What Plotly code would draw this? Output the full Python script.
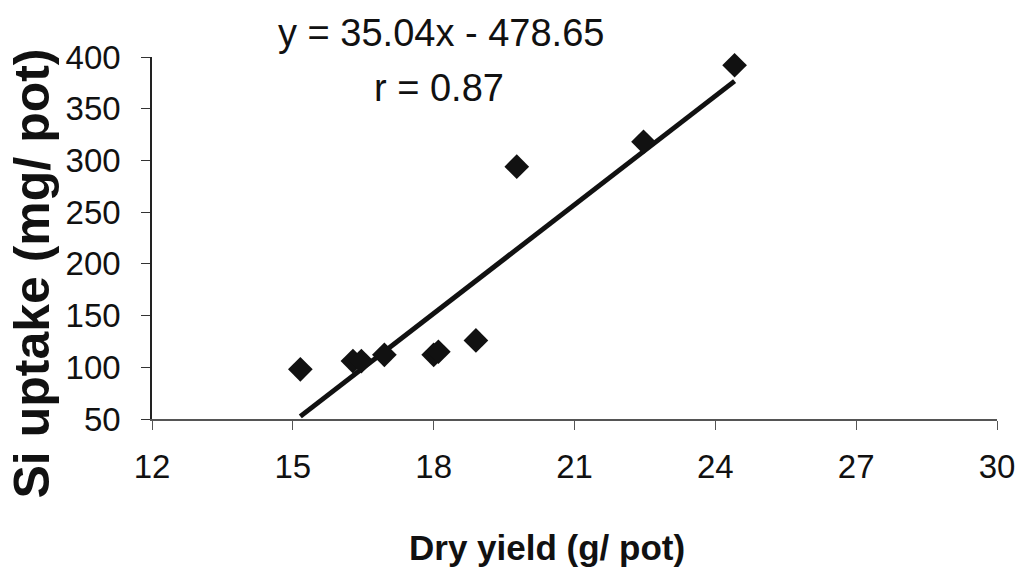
import plotly.graph_objects as go

# Dry matter yield (g/pot) and Si uptake (mg/pot) per pot
dry_yield = [15.16, 16.28, 16.46, 16.95, 18.00, 18.10, 18.90, 19.77, 22.47, 24.41]
si_uptake = [98, 106, 106, 112, 112, 115, 126, 294, 318, 392]

# Linear fit reported on the chart
slope = 35.04
intercept = -478.65
r_value = 0.87

x_ticks = [12, 15, 18, 21, 24, 27, 30]
y_ticks = [50, 100, 150, 200, 250, 300, 350, 400]

FONT = "Liberation Sans, Arial, sans-serif"
INK = "#111111"

fit_x = [min(dry_yield), max(dry_yield)]
fit_y = [slope * v + intercept for v in fit_x]

fig = go.Figure()

fig.add_trace(go.Scatter(
    x=fit_x, y=fit_y, mode="lines",
    line=dict(color=INK, width=5),
    hoverinfo="skip", showlegend=False, cliponaxis=False,
))

fig.add_trace(go.Scatter(
    x=dry_yield, y=si_uptake, mode="markers",
    marker=dict(symbol="diamond", size=19, color=INK, line=dict(width=0)),
    showlegend=False, cliponaxis=False,
))

fig.update_layout(
    width=1027, height=577,
    margin=dict(l=152, r=27, t=57, b=158),
    paper_bgcolor="white", plot_bgcolor="white",
    font=dict(family=FONT, color=INK),
    xaxis=dict(
        range=[12, 30], tickmode="array", tickvals=x_ticks,
        ticktext=[str(t) for t in x_ticks],
        showgrid=False, zeroline=False,
        showline=True, linecolor="#555555", linewidth=1.5,
        ticks="outside", ticklen=9, tickwidth=1.2, tickcolor="#555555",
        tickfont=dict(size=33, family=FONT, color=INK),
        ticklabelstandoff=9,
    ),
    yaxis=dict(
        range=[50, 400], tickmode="array", tickvals=y_ticks,
        ticktext=[str(t) for t in y_ticks],
        showgrid=False, zeroline=False,
        showline=True, linecolor="#222222", linewidth=1.6,
        ticks="outside", ticklen=9, tickwidth=1.2, tickcolor="#333333",
        tickfont=dict(size=33, family=FONT, color=INK),
        ticklabelstandoff=14,
    ),
    annotations=[
        dict(text=f"y = {slope:.2f}x - {abs(intercept):.2f}",
             xref="paper", yref="paper", x=0.342, y=1.066,
             xanchor="center", yanchor="middle", showarrow=False,
             font=dict(size=38, family=FONT, color=INK)),
        dict(text=f"r = {r_value:.2f}",
             xref="paper", yref="paper", x=0.340, y=0.914,
             xanchor="center", yanchor="middle", showarrow=False,
             font=dict(size=38, family=FONT, color=INK)),
        dict(text="<b>Dry yield (g/ pot)</b>",
             xref="paper", yref="paper", x=0.467, y=-0.356,
             xanchor="center", yanchor="middle", showarrow=False,
             font=dict(size=35, family=FONT, color=INK)),
        dict(text="<b>Si uptake (mg/ pot)</b>",
             xref="paper", yref="paper", x=-0.142, y=0.402,
             xanchor="center", yanchor="middle", showarrow=False,
             textangle=-90,
             font=dict(size=50, family=FONT, color=INK)),
    ],
)

fig.write_html("out.html")
